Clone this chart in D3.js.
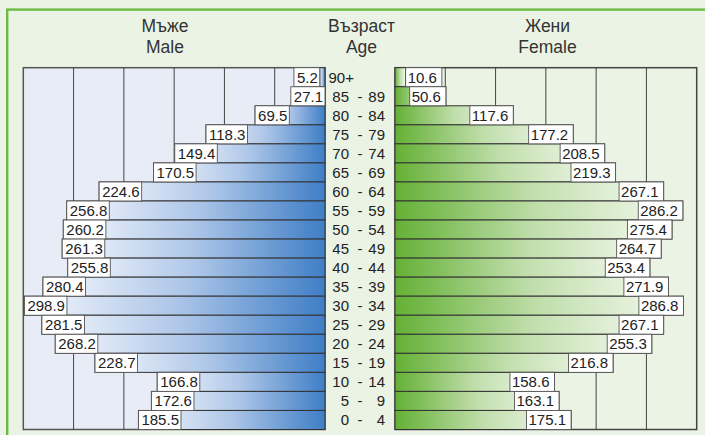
<!DOCTYPE html>
<html><head><meta charset="utf-8">
<script src="https://cdn.jsdelivr.net/npm/d3@7/dist/d3.min.js"></script>
<style>
html,body{margin:0;padding:0;background:#ebf3e4;}
svg{display:block;font-family:"Liberation Sans",Arial,sans-serif;}
</style></head>
<body>
<script>
const ages = ["90+","85 - 89","80 - 84","75 - 79","70 - 74","65 - 69","60 - 64","55 - 59","50 - 54","45 - 49","40 - 44","35 - 39","30 - 34","25 - 29","20 - 24","15 - 19","10 - 14","5 - 9","0 - 4"];
const male = [5.2,27.1,69.5,118.3,149.4,170.5,224.6,256.8,260.2,261.3,255.8,280.4,298.9,281.5,268.2,228.7,166.8,172.6,185.5];
const female = [10.6,50.6,117.6,177.2,208.5,219.3,267.1,286.2,275.4,264.7,253.4,271.9,286.8,267.1,255.3,216.8,158.6,163.1,175.1];
const ticks = [0,50,100,150,200,250,300];
const headers = {male:["Мъже","Male"], age:["Възраст","Age"], female:["Жени","Female"]};

const W=705,H=435;
const svg=d3.select("body").append("svg").attr("width",W).attr("height",H);
svg.append("rect").attr("width",W).attr("height",H).attr("fill","#ebf3e4");

const yTop=67.7,yBot=429.5;
const y=d3.scaleBand().domain(ages).range([yTop,yBot]).padding(0);
const xL=d3.scaleLinear().domain([0,300]).range([325,23.3]);
const xR=d3.scaleLinear().domain([0,300]).range([395,696.7]);

const defs=svg.append("defs");
const gm=defs.append("linearGradient").attr("id","gm").attr("x1",0).attr("x2",1);
gm.append("stop").attr("offset",0).attr("stop-color","#f6f8fd");
gm.append("stop").attr("offset",0.5).attr("stop-color","#adc6e8");
gm.append("stop").attr("offset",1).attr("stop-color","#3f7ec6");
const gf=defs.append("linearGradient").attr("id","gf").attr("x1",0).attr("x2",1);
gf.append("stop").attr("offset",0).attr("stop-color","#64b035");
gf.append("stop").attr("offset",0.5).attr("stop-color","#c0deab");
gf.append("stop").attr("offset",1).attr("stop-color","#f6faf2");

// outer green frame
svg.append("rect").attr("x",7.2).attr("y",9.6).attr("width",W).attr("height",H)
  .attr("fill","none").attr("stroke","#6cbb45").attr("stroke-width",2.4);

// panels
svg.append("rect").attr("x",xL(300)).attr("y",yTop).attr("width",xL(0)-xL(300)).attr("height",yBot-yTop)
  .attr("fill","#e8ecf7").attr("stroke","#555").attr("stroke-width",1.5);
svg.append("rect").attr("x",xR(0)).attr("y",yTop).attr("width",xR(300)-xR(0)).attr("height",yBot-yTop)
  .attr("fill","#ebf3e4").attr("stroke","#444").attr("stroke-width",1.5);

// grid
svg.append("g").selectAll("line").data(ticks.slice(1,-1)).join("line")
  .attr("x1",d=>xL(d)).attr("x2",d=>xL(d)).attr("y1",yTop).attr("y2",yBot)
  .attr("stroke","#444").attr("stroke-width",1);
svg.append("g").selectAll("line").data(ticks.slice(1,-1)).join("line")
  .attr("x1",d=>xR(d)).attr("x2",d=>xR(d)).attr("y1",yTop).attr("y2",yBot)
  .attr("stroke","#444").attr("stroke-width",1);

// bars
const bh=y.bandwidth();
svg.append("g").selectAll("rect").data(male).join("rect")
  .attr("x",d=>xL(d)).attr("y",(d,i)=>y(ages[i])).attr("width",d=>xL(0)-xL(d)).attr("height",bh)
  .attr("fill","url(#gm)").attr("stroke","#333").attr("stroke-width",1);
svg.append("g").selectAll("rect").data(female).join("rect")
  .attr("x",xR(0)).attr("y",(d,i)=>y(ages[i])).attr("width",d=>xR(d)-xR(0)).attr("height",bh)
  .attr("fill","url(#gf)").attr("stroke","#333").attr("stroke-width",1);

// value labels
const fs=15;
function labels(data,side){
  const g=svg.append("g");
  data.forEach((v,i)=>{
    const t=g.append("text").text(v.toFixed(1)).attr("font-size",fs).attr("fill","#222");
    const tw=t.node().getComputedTextLength();
    const yy=y(ages[i]);
    let bx,bw;
    if(side==="m"){
      bw=tw+5;
      const start=xL(v), len=xL(0)-xL(v);
      if(len>=bw) bx=start;
      else if(len>=0.7*bw) bx=Math.min(start,xL(0)-bw);
      else bx=start-bw;
      t.attr("x",bx+3).attr("text-anchor","start");
    } else {
      bw=tw+7;
      const end=xR(v), len=xR(v)-xR(0);
      if(len>=bw) bx=end-bw;
      else if(len>=0.7*bw) bx=Math.max(end-bw,xR(0));
      else bx=end;
      t.attr("x",bx+bw-5).attr("text-anchor","end");
    }
    t.attr("y",yy+bh/2+5.4);
    g.insert("rect","text").attr("x",bx).attr("y",yy).attr("width",bw).attr("height",bh)
      .attr("fill","#fff").attr("stroke","#555").attr("stroke-width",0.9);
  });
}
labels(male,"m");
labels(female,"f");

// age labels
const ag=svg.append("g").attr("font-size",fs).attr("fill","#222");
ages.forEach(a=>{
  const yy=y(a)+bh/2+5.4;
  if(a.indexOf(" - ")<0){
    ag.append("text").attr("x",328.5).attr("y",yy).text(a);
  } else {
    const [l,r]=a.split(" - ");
    ag.append("text").attr("x",349).attr("y",yy).attr("text-anchor","end").text(l);
    ag.append("text").attr("x",360).attr("y",yy).attr("text-anchor","middle").text("-");
    ag.append("text").attr("x",385).attr("y",yy).attr("text-anchor","end").text(r);
  }
});

// headers
const hg=svg.append("g").attr("font-size",17.5).attr("fill","#333").attr("text-anchor","middle");
[[165,headers.male],[361.5,headers.age],[547.5,headers.female]].forEach(([x,h])=>{
  hg.append("text").attr("x",x).attr("y",31.5).text(h[0]);
  hg.append("text").attr("x",x).attr("y",53.3).text(h[1]);
});
</script>
</body></html>
